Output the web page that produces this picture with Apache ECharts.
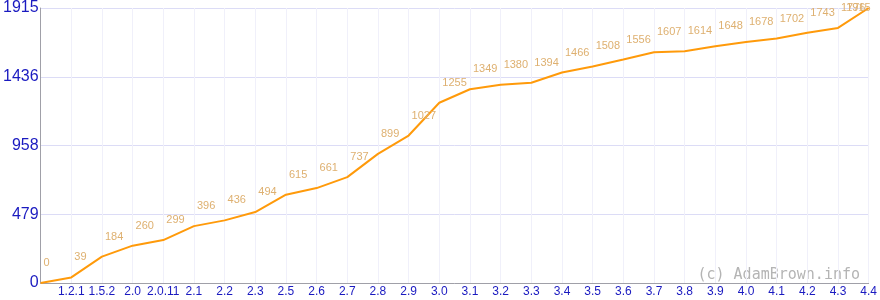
<!DOCTYPE html>
<html>
<head>
<meta charset="utf-8">
<script src="https://cdn.jsdelivr.net/npm/echarts@6/dist/echarts.min.js"></script>
<style>
html,body{margin:0;padding:0;background:#fff;}
#chart{width:880px;height:300px;}
</style>
</head>
<body>
<div id="chart"></div>
<script>
const categories = ['', '1.2.1', '1.5.2', '2.0', '2.0.11', '2.1', '2.2', '2.3', '2.5', '2.6', '2.7', '2.8', '2.9', '3.0', '3.1', '3.2', '3.3', '3.4', '3.5', '3.6', '3.7', '3.8', '3.9', '4.0', '4.1', '4.2', '4.3', '4.4'];
const values = [0, 39, 184, 260, 299, 396, 436, 494, 615, 661, 737, 899, 1027, 1255, 1349, 1380, 1394, 1466, 1508, 1556, 1607, 1614, 1648, 1678, 1702, 1743, 1776, 1915];
const yTickLabels = ['0', '479', '958', '1436', '1915'];
const yMax = 1915;
const watermark = '(c) AdamBrown.info';

const chart = echarts.init(document.getElementById('chart'), null, {renderer: 'canvas'});
const seriesData = values.map((v, i) => {
  if (i === values.length - 1) {
    return {value: v, label: {align: 'right', offset: [2, 20]}};
  }
  return v;
});
chart.setOption({
  animation: false,
  backgroundColor: '#ffffff',
  grid: {left: 37, right: 11, top: 6, bottom: 17, containLabel: false},
  xAxis: {
    type: 'category',
    data: categories,
    boundaryGap: false,
    axisLine: {show: true, lineStyle: {color: '#a0a0a8', width: 1}},
    axisTick: {show: false},
    axisLabel: {color: '#1a1ac0', fontSize: 12, fontFamily: 'Liberation Sans', margin: 3, interval: 0, showMinLabel: true, showMaxLabel: true},
    splitLine: {show: true, lineStyle: {color: '#f0f0fa', width: 1}}
  },
  yAxis: {
    type: 'value',
    min: 0,
    max: yMax,
    interval: yMax / 4,
    axisLine: {show: true, lineStyle: {color: '#a0a0a8', width: 1}},
    axisTick: {show: false},
    axisLabel: {
      color: '#1a1ac0', fontSize: 16, fontFamily: 'Liberation Sans', margin: 2,
      formatter: function (v) { return yTickLabels[Math.round(v / (yMax / 4))]; }
    },
    splitLine: {show: true, lineStyle: {color: '#dcdcf6', width: 1}}
  },
  series: [{
    type: 'line',
    data: seriesData,
    symbol: 'circle',
    symbolSize: 1,
    showSymbol: true,
    itemStyle: {color: 'rgba(0,0,0,0)', borderWidth: 0},
    lineStyle: {color: '#ff9a0a', width: 2},
    label: {
      show: true,
      position: 'top',
      distance: 14,
      align: 'left',
      offset: [3, 0],
      color: '#deb070',
      fontSize: 11,
      fontFamily: 'Liberation Sans'
    }
  }],
  graphic: [{
    type: 'text',
    right: 20,
    top: 268,
    style: {text: watermark, fill: '#b4b4b4', font: '15px "DejaVu Sans Mono"'}
  }]
});
</script>
</body>
</html>
